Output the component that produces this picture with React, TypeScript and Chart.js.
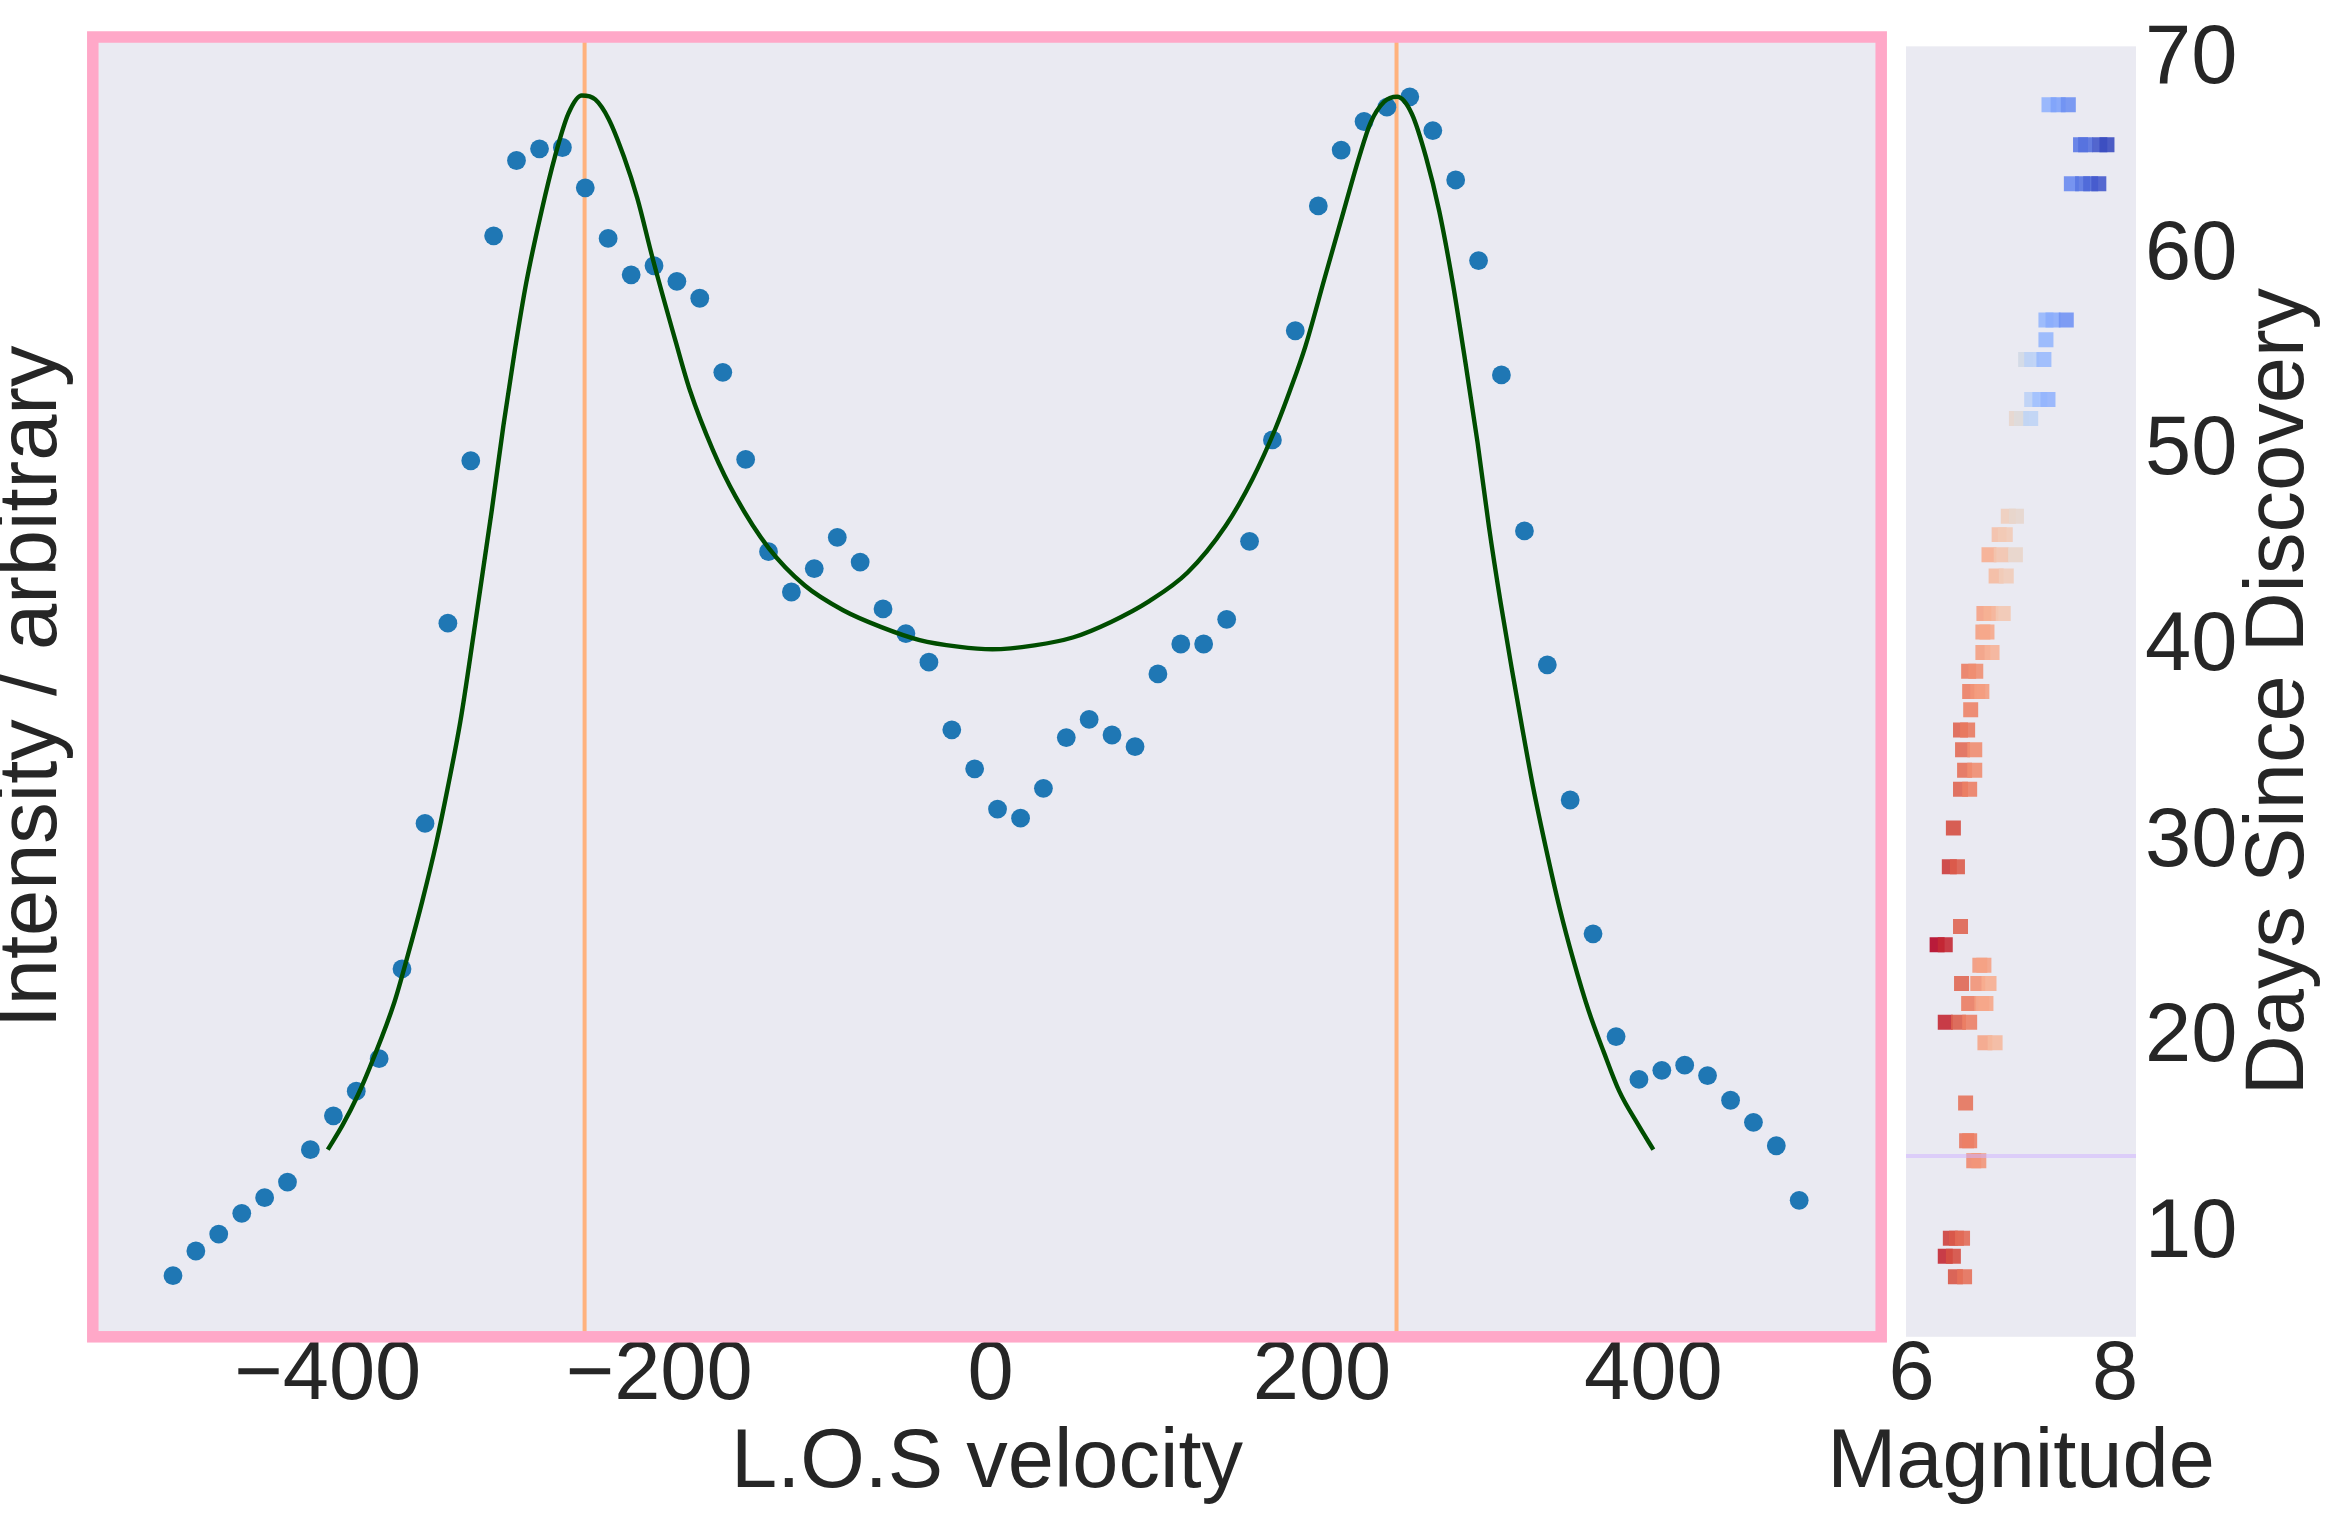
import { useEffect, useRef } from 'react'
import { Chart, registerables } from 'chart.js'

Chart.register(...registerables)

const FONT = "'Liberation Sans', Arial, Helvetica, sans-serif"
const INK = '#262626'
const PANEL = '#eaeaf2'

// ---- spectrum (left panel) ----
const velocity = [
  -493.4, -479.6, -465.8, -451.9, -438.1, -424.3, -410.5, -396.6, -382.8, -369.0,
  -355.2, -341.3, -327.5, -313.7, -299.9, -286.1, -272.2, -258.4, -244.6, -230.8,
  -216.9, -203.1, -189.3, -175.5, -161.6, -147.8, -134.0, -120.2, -106.4, -92.5,
  -78.7, -64.9, -51.1, -37.2, -23.4, -9.6, 4.2, 18.1, 31.9, 45.7,
  59.5, 73.3, 87.2, 101.0, 114.8, 128.6, 142.5, 156.3, 170.1, 183.9,
  197.8, 211.6, 225.4, 239.2, 253.0, 266.9, 280.7, 294.5, 308.3, 322.2,
  336.0, 349.8, 363.6, 377.5, 391.3, 405.1, 418.9, 432.7, 446.6, 460.4,
  474.2, 488.0,
]
const intensity = [
  0.047, 0.066, 0.079, 0.095, 0.107, 0.119, 0.144, 0.170, 0.189, 0.214,
  0.283, 0.395, 0.549, 0.674, 0.847, 0.905, 0.914, 0.915, 0.884, 0.845,
  0.817, 0.824, 0.812, 0.799, 0.742, 0.675, 0.604, 0.573, 0.591, 0.615,
  0.596, 0.560, 0.541, 0.519, 0.467, 0.437, 0.406, 0.399, 0.422, 0.461,
  0.475, 0.463, 0.454, 0.510, 0.533, 0.533, 0.552, 0.612, 0.690, 0.774,
  0.870, 0.913, 0.935, 0.946, 0.954, 0.928, 0.890, 0.828, 0.740, 0.620,
  0.517, 0.413, 0.310, 0.231, 0.198, 0.205, 0.209, 0.201, 0.182, 0.165,
  0.147, 0.105,
]

// fitted double-peaked profile
const fitVelocity = [
  -400, -391.0, -381.8, -372.5, -359.9, -351.8, -343.0, -334.5, -327.5, -319.9,
  -311.8, -301.0, -294.0, -287.1, -280.2, -271.0, -262.9, -254.8, -246.7, -238.6,
  -230.5, -221.3, -213.2, -204.0, -190.1, -181.4, -167.5, -153.7, -134.0, -112.1,
  -89.0, -65.9, -42.8, -19.7, 1.1, 26.5, 49.6, 72.7, 95.8, 118.9,
  141.9, 158.1, 172.0, 180.7, 190.0, 201.5, 213.1, 222.3, 229.3, 237.4,
  245.4, 254.2, 262.7, 270.8, 278.9, 285.8, 293.9, 300.8, 307.8, 314.7,
  320.5, 327.4, 335.5, 343.6, 351.7, 360.9, 370.1, 379.4, 390.9, 400,
]
const fitIntensity = [
  0.144, 0.163, 0.186, 0.214, 0.257, 0.293, 0.335, 0.380, 0.423, 0.474,
  0.542, 0.636, 0.701, 0.759, 0.811, 0.866, 0.908, 0.941, 0.955, 0.952,
  0.937, 0.908, 0.876, 0.830, 0.766, 0.728, 0.682, 0.646, 0.607, 0.578,
  0.559, 0.546, 0.536, 0.531, 0.529, 0.532, 0.538, 0.550, 0.566, 0.588,
  0.624, 0.660, 0.699, 0.728, 0.762, 0.814, 0.866, 0.907, 0.934, 0.950,
  0.954, 0.941, 0.908, 0.866, 0.811, 0.756, 0.688, 0.623, 0.565, 0.513,
  0.471, 0.423, 0.374, 0.329, 0.290, 0.251, 0.219, 0.189, 0.163, 0.144,
]
const peakVelocity = [-245, 245]
const velocityTicks = [-400, -200, 0, 200, 400]

// ---- light curve (right panel) ----
const days = [
  67.71, 67.71, 67.71,
  65.67, 65.67, 65.67, 65.67,
  63.68, 63.68, 63.68, 63.68,
  56.72, 56.72, 56.72,
  55.71,
  54.70, 54.70, 54.70,
  52.66, 52.66, 52.66,
  51.68, 51.68, 51.68,
  46.69, 46.69,
  45.75, 45.75,
  44.72, 44.72, 44.72,
  43.64, 43.64,
  41.72, 41.72, 41.72,
  40.78, 40.78,
  39.73, 39.73,
  38.77, 38.77,
  37.73, 37.73, 37.73,
  36.80,
  35.77, 35.77,
  34.76, 34.76,
  33.71, 33.71,
  32.74, 32.74,
  30.76,
  28.78, 28.78,
  25.73,
  24.79, 24.79,
  23.75, 23.75,
  22.81, 22.81, 22.81,
  21.79, 21.79, 21.79,
  20.83, 20.83, 20.83,
  19.78, 19.78,
  16.71,
  14.78, 14.78,
  13.76, 13.76,
  9.79, 9.79, 9.79,
  8.87, 8.87,
  7.83, 7.83,
]
const magnitude = [
  7.35, 7.44, 7.54,
  7.66, 7.71, 7.85, 7.92,
  7.57, 7.68, 7.76, 7.84,
  7.32, 7.39, 7.52,
  7.32,
  7.12, 7.18, 7.30,
  7.18, 7.26, 7.34,
  7.03, 7.08, 7.17,
  6.95, 7.03,
  6.86, 6.92,
  6.76, 6.88, 7.02,
  6.83, 6.93,
  6.71, 6.78, 6.90,
  6.70, 6.74,
  6.70, 6.79,
  6.56, 6.63,
  6.57, 6.65, 6.69,
  6.58,
  6.48, 6.55,
  6.50, 6.62,
  6.52, 6.62,
  6.48, 6.57,
  6.41,
  6.37, 6.45,
  6.48,
  6.25, 6.33,
  6.67, 6.71,
  6.49, 6.65, 6.76,
  6.56, 6.69, 6.73,
  6.33, 6.46, 6.57,
  6.72, 6.82,
  6.53,
  6.54, 6.57,
  6.61, 6.66,
  6.38, 6.44, 6.50,
  6.33, 6.41,
  6.43, 6.52,
]
const magnitudeTicks = [6, 8]
const dayTicks = [10, 20, 30, 40, 50, 60, 70]
const discoveryMark = [14]

// coolwarm colour map anchors (position, colour)
const coolwarm: [number, string][] = [
  [0.0, '#3b4cc0'], [0.1, '#4f69d9'], [0.2, '#6788ee'], [0.3, '#84a7fc'],
  [0.4, '#a3c2fe'], [0.45, '#c0d4f5'], [0.5, '#dddcdc'], [0.55, '#ecd3c5'],
  [0.6, '#f2cbb7'], [0.7, '#f7ac8e'], [0.8, '#ee8468'], [0.9, '#d65244'],
  [1.0, '#b40426'],
]

function hexRgb(h: string) {
  return [1, 3, 5].map(i => parseInt(h.slice(i, i + 2), 16))
}

// reversed coolwarm: low magnitude -> red, high -> blue
function coolwarmR(t: number, alpha: number) {
  const u = Math.min(1, Math.max(0, 1 - t))
  let k = 0
  while (k < coolwarm.length - 2 && u > coolwarm[k + 1][0]) k++
  const [p0, c0] = coolwarm[k]
  const [p1, c1] = coolwarm[k + 1]
  const f = (u - p0) / (p1 - p0)
  const a = hexRgb(c0), b = hexRgb(c1)
  const rgb = a.map((v, i) => Math.round(v + (b[i] - v) * f))
  return `rgba(${rgb[0]},${rgb[1]},${rgb[2]},${alpha})`
}

const minusLabel = (v: number) => (v < 0 ? '\u2212' + Math.abs(v) : String(v))

const tickFont = { family: FONT, size: 83, lineHeight: 0.9 }
const titleFont = { family: FONT, size: 83, lineHeight: 1 }

// right panel canvas sits over the gap between the panels
const RIGHT_LEFT = 1800
const RIGHT_W = 540

const fillPanel = (chart: any) => {
  const { ctx, chartArea: a } = chart
  ctx.save()
  ctx.fillStyle = PANEL
  ctx.fillRect(a.left, a.top, a.right - a.left, a.bottom - a.top)
  ctx.restore()
}

const spectrumDecor = {
  id: 'spectrumDecor',
  beforeDraw: fillPanel,
  beforeDatasetsDraw(chart: any) {
    const { ctx, chartArea: a, scales } = chart
    ctx.save()
    ctx.strokeStyle = '#ffb27d'
    ctx.lineWidth = 4
    peakVelocity.forEach(v => {
      const px = scales.x.getPixelForValue(v)
      ctx.beginPath()
      ctx.moveTo(px, a.top)
      ctx.lineTo(px, a.bottom)
      ctx.stroke()
    })
    ctx.restore()
  },
  afterDraw(chart: any) {
    const { ctx, chartArea: a } = chart
    ctx.save()
    ctx.strokeStyle = '#ffa8c8'
    ctx.lineWidth = 11.5
    ctx.strokeRect(a.left, a.top, a.right - a.left, a.bottom - a.top)
    ctx.restore()
  },
}

const lightCurveDecor = {
  id: 'lightCurveDecor',
  beforeDraw: fillPanel,
  afterDatasetsDraw(chart: any) {
    const { ctx, chartArea: a, scales } = chart
    ctx.save()
    ctx.strokeStyle = 'rgba(208,180,255,0.55)'
    ctx.lineWidth = 4
    discoveryMark.forEach(d => {
      const py = scales.y.getPixelForValue(d)
      ctx.beginPath()
      ctx.moveTo(a.left, py)
      ctx.lineTo(a.right, py)
      ctx.stroke()
    })
    ctx.restore()
  },
  afterDraw(chart: any) {
    const { ctx, chartArea: a } = chart
    ctx.save()
    ctx.font = `83px ${FONT}`
    ctx.fillStyle = INK
    ctx.textAlign = 'center'
    ctx.textBaseline = 'middle'
    // x-axis title, allowed to run wider than the narrow panel
    ctx.fillText('Magnitude', (a.left + a.right) / 2, 1464)
    // y-axis title on the right, reading bottom to top
    ctx.translate(2280 - RIGHT_LEFT, (a.top + a.bottom) / 2)
    ctx.rotate(-Math.PI / 2)
    ctx.fillText('Days Since Discovery', 0, 0)
    ctx.restore()
  },
}

function SpectrumChart() {
  const canvasRef = useRef<HTMLCanvasElement>(null)
  const chartRef = useRef<Chart | null>(null)

  useEffect(() => {
    if (!canvasRef.current) return
    if (chartRef.current) chartRef.current.destroy()

    chartRef.current = new Chart(canvasRef.current, {
      type: 'scatter',
      data: {
        datasets: [
          {
            label: 'fit',
            data: fitVelocity.map((x, i) => ({ x, y: fitIntensity[i] })),
            showLine: true,
            borderColor: '#004d00',
            borderWidth: 4.4,
            pointRadius: 0,
            cubicInterpolationMode: 'monotone',
            order: 0,
          },
          {
            label: 'spectrum',
            data: velocity.map((x, i) => ({ x, y: intensity[i] })),
            backgroundColor: '#1f77b4',
            borderWidth: 0,
            pointRadius: 9.4,
            order: 1,
          },
        ],
      },
      options: {
        responsive: false,
        animation: false,
        devicePixelRatio: 1,
        layout: { padding: { top: 37, right: 13.8, left: 0, bottom: 0 } },
        plugins: { legend: { display: false }, tooltip: { enabled: false } },
        scales: {
          x: {
            type: 'linear',
            min: -541.8,
            max: 537.5,
            grid: { display: false, drawTicks: false },
            border: { display: false },
            afterBuildTicks: (s: any) => { s.ticks = velocityTicks.map(value => ({ value })) },
            afterFit: (s: any) => { s.height = 179.2 },
            ticks: {
              font: tickFont, color: INK, padding: 2, maxRotation: 0, autoSkip: false,
              callback: (v: any) => minusLabel(Number(v)),
            },
            title: {
              display: true, text: 'L.O.S velocity', font: titleFont, color: INK,
              padding: { top: 0, bottom: 10.5 },
            },
          },
          y: {
            min: 0,
            max: 1,
            grid: { display: false, drawTicks: false },
            border: { display: false },
            ticks: { display: false },
            afterFit: (s: any) => { s.width = 92.8 },
            title: {
              display: true, text: 'Intensity / arbitrary',
              font: { family: FONT, size: 83, lineHeight: 0.8 }, color: INK, padding: 0,
            },
          },
        },
      },
      plugins: [spectrumDecor],
    } as any)

    return () => { chartRef.current?.destroy(); chartRef.current = null }
  }, [])

  return (
    <canvas
      ref={canvasRef}
      width={1895}
      height={1516}
      style={{ position: 'absolute', left: 0, top: 0 }}
      role="img"
      aria-label="Spectrum intensity against line-of-sight velocity"
    />
  )
}

function LightCurveChart() {
  const canvasRef = useRef<HTMLCanvasElement>(null)
  const chartRef = useRef<Chart | null>(null)

  useEffect(() => {
    if (!canvasRef.current) return
    if (chartRef.current) chartRef.current.destroy()

    const mMin = Math.min(...magnitude)
    const mMax = Math.max(...magnitude)

    chartRef.current = new Chart(canvasRef.current, {
      type: 'scatter',
      data: {
        datasets: [{
          label: 'light curve',
          data: magnitude.map((x, i) => ({ x, y: days[i] })),
          backgroundColor: magnitude.map(m => coolwarmR((m - mMin) / (mMax - mMin), 0.9)),
          borderWidth: 0,
          pointStyle: 'rect',
          pointRadius: 10.6,
        }],
      },
      options: {
        responsive: false,
        animation: false,
        devicePixelRatio: 1,
        layout: { padding: { top: 37, right: 0, left: 1906 - RIGHT_LEFT, bottom: 0 } },
        plugins: { legend: { display: false }, tooltip: { enabled: false } },
        scales: {
          x: {
            type: 'linear',
            min: 5.944,
            max: 8.2055,
            grid: { display: false, drawTicks: false },
            border: { display: false },
            afterBuildTicks: (s: any) => { s.ticks = magnitudeTicks.map(value => ({ value })) },
            afterFit: (s: any) => { s.height = 179.2 },
            ticks: { font: tickFont, color: INK, padding: 2, maxRotation: 0, autoSkip: false },
            title: { display: false },
          },
          y: {
            position: 'right',
            min: 4.76,
            max: 70.7,
            grid: { display: false, drawTicks: false },
            border: { display: false },
            afterBuildTicks: (s: any) => { s.ticks = dayTicks.map(value => ({ value })) },
            afterFit: (s: any) => { s.width = RIGHT_LEFT + RIGHT_W - 2136 },
            ticks: { font: tickFont, color: INK, padding: 9, autoSkip: false },
            title: { display: false },
          },
        },
      },
      plugins: [lightCurveDecor],
    } as any)

    return () => { chartRef.current?.destroy(); chartRef.current = null }
  }, [])

  return (
    <canvas
      ref={canvasRef}
      width={RIGHT_W}
      height={1516}
      style={{ position: 'absolute', left: RIGHT_LEFT, top: 0 }}
      role="img"
      aria-label="Magnitude against days since discovery"
    />
  )
}

export default function App() {
  return (
    <div style={{ position: 'absolute', left: 0, top: 0, width: 2340, height: 1516, background: '#fff', overflow: 'hidden' }}>
      <SpectrumChart />
      <LightCurveChart />
    </div>
  )
}
